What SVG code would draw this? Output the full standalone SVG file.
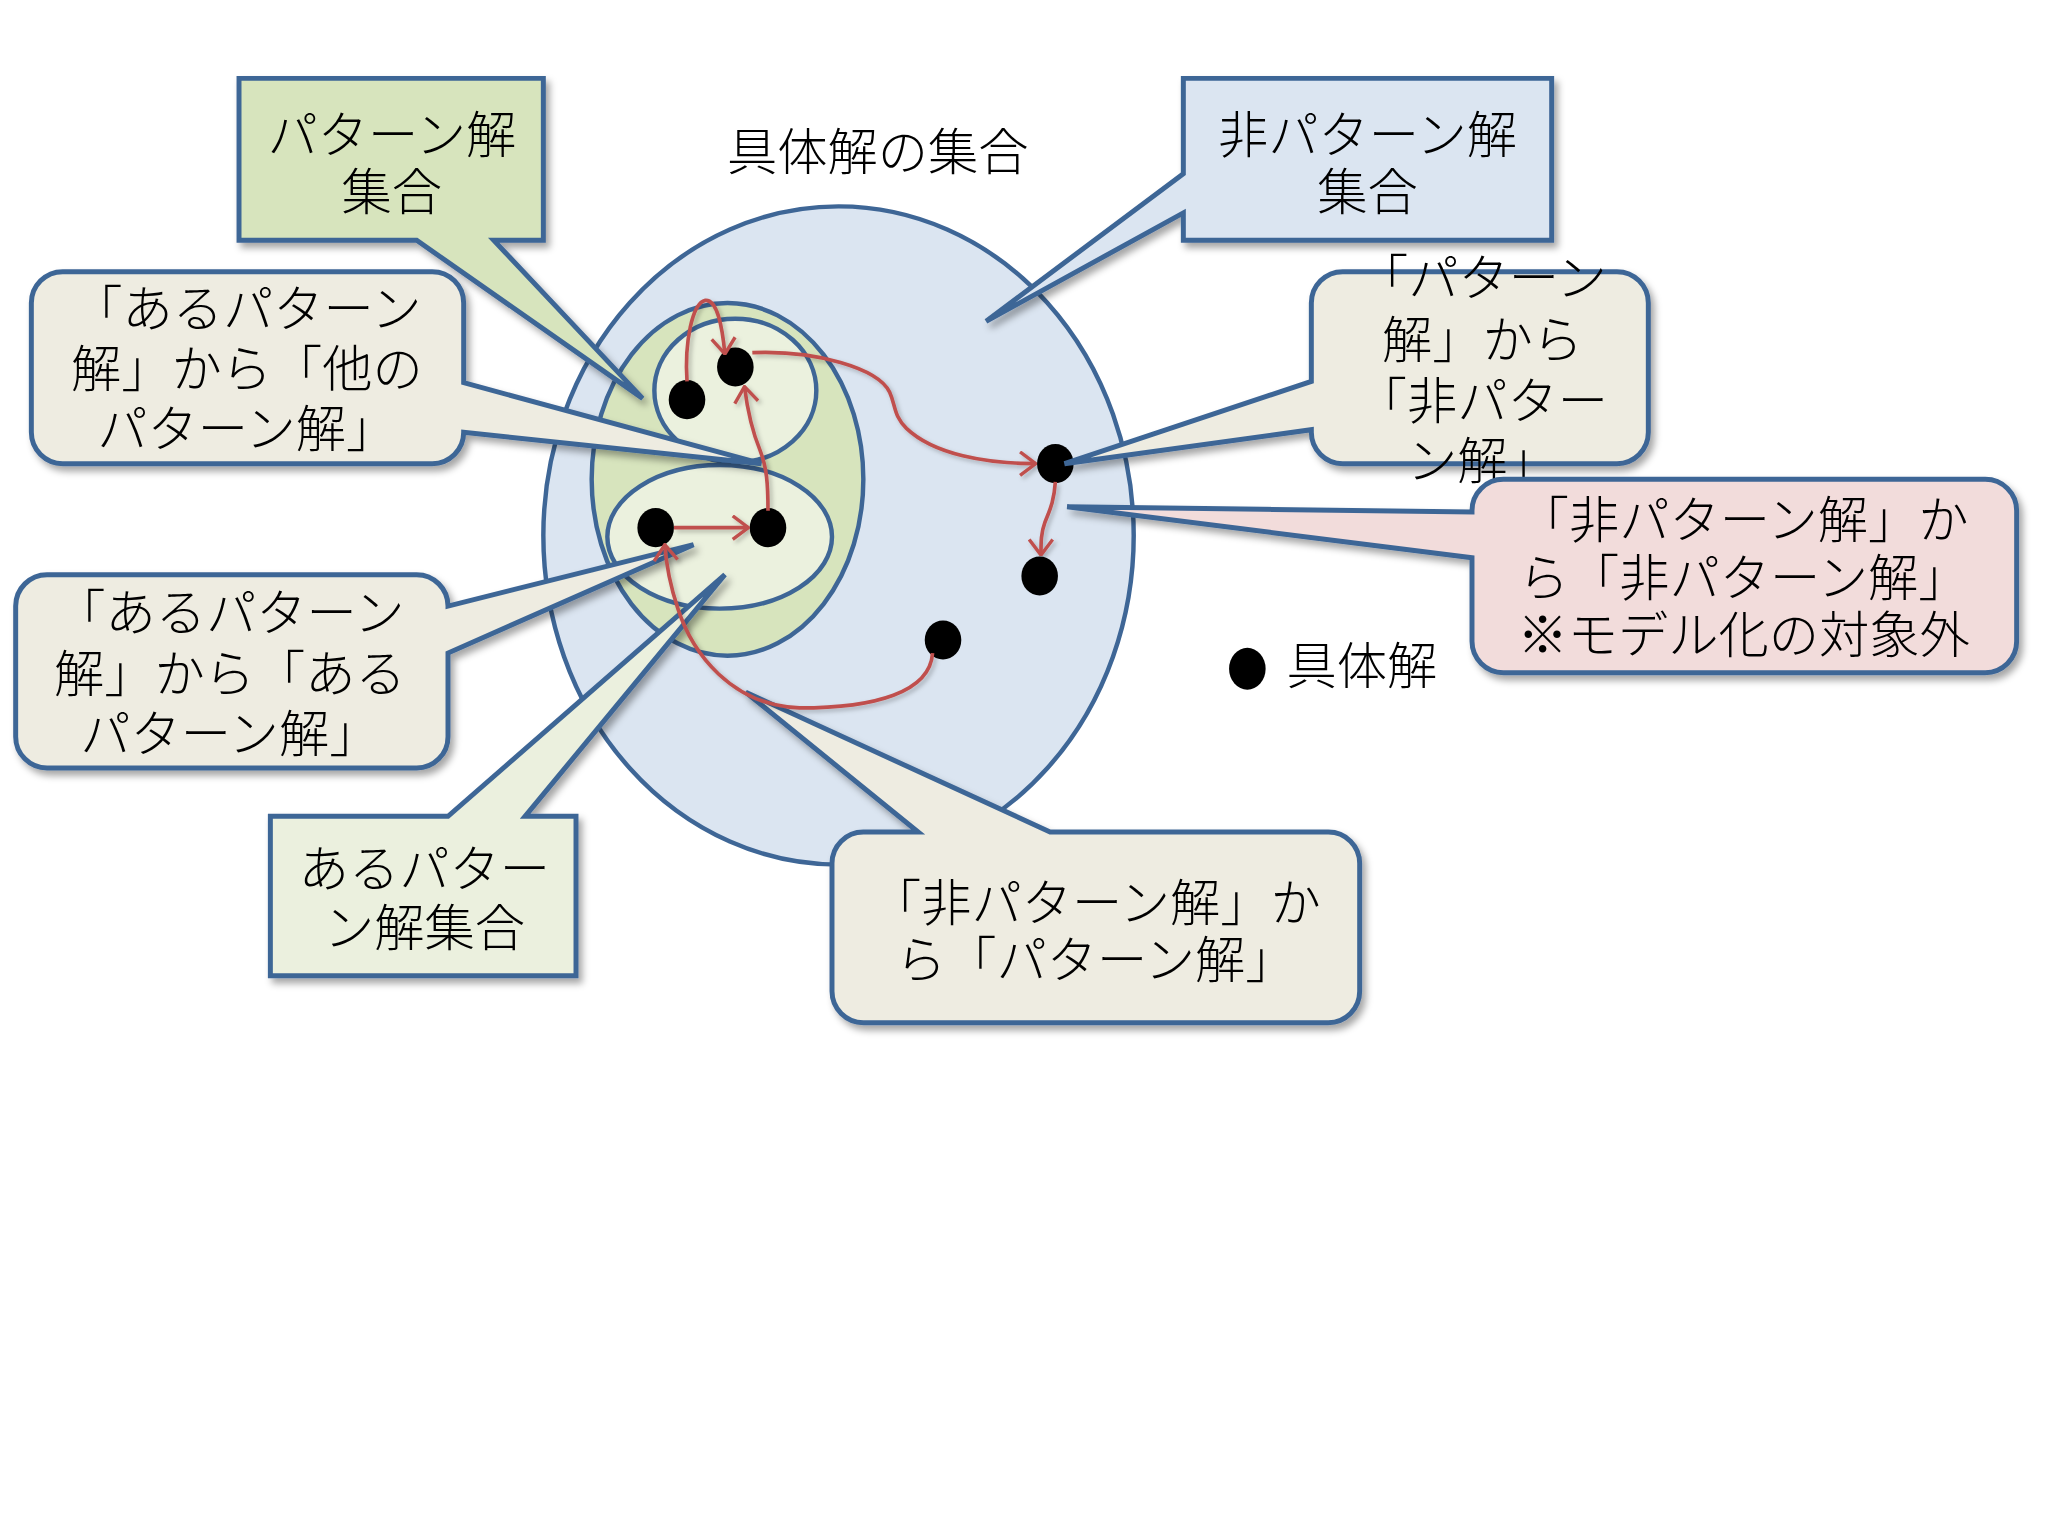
<svg xmlns="http://www.w3.org/2000/svg" width="2048" height="1536" viewBox="0 0 2048 1536">
<defs>
<style>
.box{stroke:#3e6696;stroke-width:3.8;stroke-linejoin:miter;filter:url(#sh)}
.ell{stroke:#3e6696;stroke-width:3.4}
.dot{fill:#000}
.arr{fill:none;stroke:#c0504d;stroke-width:2.8;marker-end:url(#ah)}
text{font-family:'Noto Sans CJK JP','Noto Sans CJK SC',sans-serif;font-size:38.5px;font-weight:300;fill:#000}
.c{text-anchor:middle}
</style>
<filter id="sh" x="-10%" y="-10%" width="125%" height="130%">
<feDropShadow dx="3" dy="4" stdDeviation="3" flood-color="#000" flood-opacity="0.35"/>
</filter>
<filter id="sh2" filterUnits="userSpaceOnUse" x="0" y="0" width="1568" height="1176">
<feDropShadow dx="2" dy="2" stdDeviation="1.5" flood-color="#000" flood-opacity="0.25"/>
</filter>
<marker id="ah" markerUnits="userSpaceOnUse" viewBox="0 0 14 20" refX="13" refY="10" markerWidth="14" markerHeight="20" orient="auto">
<path d="M1,1 L13,10 L1,19" fill="none" stroke="#c0504d" stroke-width="2.6"/>
</marker>
</defs>
<rect width="2048" height="1536" fill="#fff"/>
<g transform="scale(1.30612)">
<g id="title"><text class="c" x="672" y="130">具体解の集合</text></g>
<g id="set-all"><ellipse class="ell" cx="642" cy="410" rx="226" ry="252" fill="#dbe5f1"/></g>
<g id="set-pattern"><ellipse class="ell" cx="557" cy="367" rx="104" ry="135" fill="#d7e4bd"/></g>
<g id="set-patternA"><ellipse class="ell" cx="563" cy="299" rx="62" ry="55" fill="#ebf1de"/></g>
<g id="set-patternB"><ellipse class="ell" cx="551" cy="411" rx="86" ry="55" fill="#ebf1de"/></g>
<g id="dots">
<ellipse class="dot" cx="526" cy="306" rx="14" ry="15"/>
<ellipse class="dot" cx="563" cy="281" rx="14" ry="15"/>
<ellipse class="dot" cx="502" cy="404" rx="14" ry="15"/>
<ellipse class="dot" cx="588" cy="404" rx="14" ry="15"/>
<ellipse class="dot" cx="808" cy="355" rx="14" ry="15"/>
<ellipse class="dot" cx="796" cy="441" rx="14" ry="15"/>
<ellipse class="dot" cx="722" cy="490" rx="14" ry="15"/>
</g>
<g id="callout-pattern-set">
<path class="box" fill="#d7e4bd" d="M183,60 H416 V184 H378 L492,305 L319,184 H183 Z"/>
<text class="c"><tspan x="300" y="117">パターン解</tspan><tspan x="300" y="161">集合</tspan></text>
</g>
<g id="callout-p-to-other">
<path class="box" fill="#eeece1" d="M48,208 H331 A24,24 0 0 1 355,232 V293 L583,355 L355,331 A24,24 0 0 1 331,355 H48 A24,24 0 0 1 24,331 V232 A24,24 0 0 1 48,208 Z"/>
<text class="c"><tspan x="189" y="250">「あるパターン</tspan><tspan x="189" y="296">解」から「他の</tspan><tspan x="189" y="342">パターン解」</tspan></text>
</g>
<g id="callout-nonpattern-set">
<path class="box" fill="#dbe5f1" d="M906,60 H1188 V184 H906 V163 L755,246 L906,133 Z"/>
<text class="c"><tspan x="1047" y="117">非パターン解</tspan><tspan x="1047" y="161">集合</tspan></text>
</g>
<g id="callout-p-to-np">
<path class="box" fill="#eeece1" d="M1028,208 H1238 A24,24 0 0 1 1262,232 V331 A24,24 0 0 1 1238,355 H1028 A24,24 0 0 1 1004,331 V329 L815,355 L1004,292 V232 A24,24 0 0 1 1028,208 Z"/>
<text class="c"><tspan x="1135" y="227">「パターン</tspan><tspan x="1135" y="274">解」から</tspan><tspan x="1135" y="321">「非パター</tspan><tspan x="1135" y="367">ン解」</tspan></text>
</g>
<g id="callout-np-to-np">
<path class="box" fill="#f2dcdb" d="M1151,367 H1520 A24,24 0 0 1 1544,391 V491 A24,24 0 0 1 1520,515 H1151 A24,24 0 0 1 1127,491 V427 L817,388 L1127,392 V391 A24,24 0 0 1 1151,367 Z"/>
<text class="c"><tspan x="1335" y="412">「非パターン解」か</tspan><tspan x="1335" y="456">ら「非パターン解」</tspan><tspan x="1335" y="500">※モデル化の対象外</tspan></text>
</g>
<g id="callout-p-to-same">
<path class="box" fill="#eeece1" d="M36,440 H319 A24,24 0 0 1 343,464 L531,417 L343,500 V564 A24,24 0 0 1 319,588 H36 A24,24 0 0 1 12,564 V464 A24,24 0 0 1 36,440 Z"/>
<text class="c"><tspan x="176" y="483">「あるパターン</tspan><tspan x="176" y="530">解」から「ある</tspan><tspan x="176" y="576">パターン解」</tspan></text>
</g>
<g id="callout-one-pattern-set">
<path class="box" fill="#ebf0de" d="M207,625 H343 L555,440 L402,625 H441 V747 H207 Z"/>
<text class="c"><tspan x="325" y="679">あるパター</tspan><tspan x="325" y="724">ン解集合</tspan></text>
</g>
<g id="callout-np-to-p">
<path class="box" fill="#eeece1" d="M661,637 H703 L571,530 L804,637 H1017 A24,24 0 0 1 1041,661 V759 A24,24 0 0 1 1017,783 H661 A24,24 0 0 1 637,759 V661 A24,24 0 0 1 661,637 Z"/>
<text class="c"><tspan x="839" y="705">「非パターン解」か</tspan><tspan x="839" y="749">ら「パターン解」</tspan></text>
</g>
<g id="connectors" filter="url(#sh2)">
<path class="arr" d="M526,292 C524,262 530,232 540,230 C549,229 553,250 555,271"/>
<path class="arr" d="M588,391 C588,370 587,358 582,345 C575,328 572,312 570,296"/>
<path class="arr" d="M516,404 L573,404"/>
<path class="arr" d="M576,270 C625,268 672,282 681,300 C686,311 684,318 694,328 C715,348 755,355 793,355"/>
<path class="arr" d="M808,369 C807,385 803,392 800,400 C797,408 797,415 797,425"/>
<path class="arr" d="M714,500 C712,530 670,542 612,542 C560,540 530,500 519,466 C513,448 510,432 509,417"/>
</g>
<g id="legend">
<ellipse class="dot" cx="955" cy="512" rx="14" ry="16"/>
<text x="985" y="524">具体解</text>
</g>
</g>
</svg>
